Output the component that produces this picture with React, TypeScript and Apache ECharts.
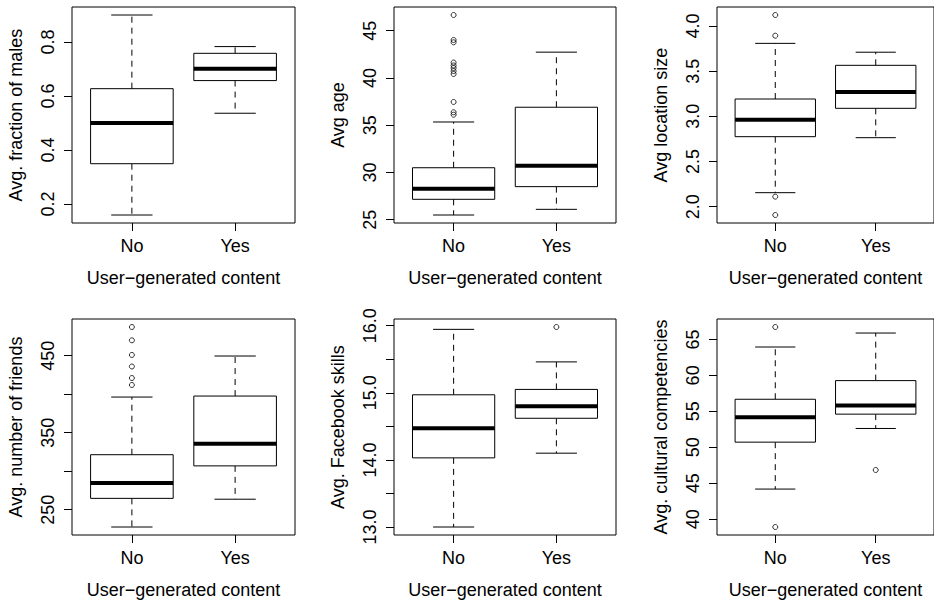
import React, { useEffect, useRef } from "react";
import * as echarts from "echarts";

// ---------- data ----------
const categories = ["No", "Yes"];
const xTitle = "User\u2212generated content";

// box stats: [lower whisker, Q1, median, Q3, upper whisker] for No, Yes
const malesStats = [
  [0.159, 0.349, 0.5, 0.627, 0.9],
  [0.536, 0.657, 0.701, 0.758, 0.783],
];
const malesOutliersNo: number[] = [];
const malesOutliersYes: number[] = [];
const malesTicks = [0.2, 0.4, 0.6, 0.8];

const ageStats = [
  [25.5, 27.16, 28.28, 30.5, 35.34],
  [26.1, 28.5, 30.7, 36.9, 42.73],
];
const ageOutliersNo = [46.66, 44.02, 43.77, 41.63, 41.32, 41.05, 40.73, 40.42, 37.46, 36.37, 36.11];
const ageOutliersYes: number[] = [];
const ageTicks = [25, 30, 35, 40, 45];

const locationStats = [
  [2.155, 2.775, 2.963, 3.192, 3.808],
  [2.764, 3.089, 3.27, 3.565, 3.71],
];
const locationOutliersNo = [4.122, 3.893, 2.111, 1.908];
const locationOutliersYes: number[] = [];
const locationTicks = [2.0, 2.5, 3.0, 3.5, 4.0];

const friendsStats = [
  [227.5, 264.7, 284.7, 321.4, 396.3],
  [263.6, 306.9, 335.5, 397.6, 449.6],
];
const friendsOutliersNo = [487.3, 470.0, 451.0, 436.0, 421.0, 412.0];
const friendsOutliersYes: number[] = [];
const friendsTicks = [250, 300, 350, 400, 450];
const friendsTickLabels = [250, 350, 450];

const skillsStats = [
  [13.0, 14.03, 14.47, 14.97, 15.945],
  [14.1, 14.62, 14.8, 15.05, 15.46],
];
const skillsOutliersNo: number[] = [];
const skillsOutliersYes = [15.98];
const skillsTicks = [13.0, 13.5, 14.0, 14.5, 15.0, 15.5, 16.0];
const skillsTickLabels = [13.0, 14.0, 15.0, 16.0];

const cultureStats = [
  [44.2, 50.72, 54.18, 56.68, 63.94],
  [52.62, 54.61, 55.8, 59.27, 65.88],
];
const cultureOutliersNo = [66.72, 38.93];
const cultureOutliersYes = [46.85];
const cultureTicks = [40, 45, 50, 55, 60, 65];

// ---------- panels ----------
type Panel = {
  yTitle: string;
  stats: number[][];
  outNo: number[];
  outYes: number[];
  ticks: number[];
  labels: number[];
  decimals: number;
  left: number;
  top: number;
  width: number;
};

const FONT = "'Liberation Sans', Arial, Helvetica, sans-serif";
const FS = 18;
const colLeft = [72, 394, 717];
const colWidth = [223, 222, 222];
const rowTop = [7, 319];
const H = 216;

const panels: Panel[] = [
  { yTitle: "Avg. fraction of males", stats: malesStats, outNo: malesOutliersNo, outYes: malesOutliersYes, ticks: malesTicks, labels: malesTicks, decimals: 1, left: colLeft[0], top: rowTop[0], width: colWidth[0] },
  { yTitle: "Avg age", stats: ageStats, outNo: ageOutliersNo, outYes: ageOutliersYes, ticks: ageTicks, labels: ageTicks, decimals: 0, left: colLeft[1], top: rowTop[0], width: colWidth[1] },
  { yTitle: "Avg location size", stats: locationStats, outNo: locationOutliersNo, outYes: locationOutliersYes, ticks: locationTicks, labels: locationTicks, decimals: 1, left: colLeft[2], top: rowTop[0], width: colWidth[2] },
  { yTitle: "Avg. number of friends", stats: friendsStats, outNo: friendsOutliersNo, outYes: friendsOutliersYes, ticks: friendsTicks, labels: friendsTickLabels, decimals: 0, left: colLeft[0], top: rowTop[1], width: colWidth[0] },
  { yTitle: "Avg. Facebook skills", stats: skillsStats, outNo: skillsOutliersNo, outYes: skillsOutliersYes, ticks: skillsTicks, labels: skillsTickLabels, decimals: 1, left: colLeft[1], top: rowTop[1], width: colWidth[1] },
  { yTitle: "Avg. cultural competencies", stats: cultureStats, outNo: cultureOutliersNo, outYes: cultureOutliersYes, ticks: cultureTicks, labels: cultureTicks, decimals: 0, left: colLeft[2], top: rowTop[1], width: colWidth[2] },
];

function buildOption() {
  const grid: any[] = [];
  const xAxis: any[] = [];
  const yAxis: any[] = [];
  const series: any[] = [];

  panels.forEach((p, i) => {
    const all = [...p.stats[0], ...p.stats[1], ...p.outNo, ...p.outYes];
    const dMin = Math.min(...all);
    const dMax = Math.max(...all);
    const ext = (dMax - dMin) * 0.04;

    grid.push({
      left: p.left,
      top: p.top,
      width: p.width,
      height: H,
      show: true,
      borderColor: "#000",
      borderWidth: 1,
      backgroundColor: "transparent",
      containLabel: false,
    });

    xAxis.push({
      type: "value",
      gridIndex: i,
      min: 0.42,
      max: 2.58,
      axisLine: { show: false },
      splitLine: { show: false },
      axisTick: { show: true, customValues: [1, 2], length: 8, lineStyle: { color: "#000", width: 1 } },
      axisLabel: {
        show: true,
        customValues: [1, 2],
        margin: 14,
        color: "#000",
        fontSize: FS,
        fontFamily: FONT,
        formatter: (v: number) => categories[Math.round(v) - 1] ?? "",
      },
      name: xTitle,
      nameLocation: "middle",
      nameGap: 46,
      nameTextStyle: { color: "#000", fontSize: FS, fontFamily: FONT },
    });

    yAxis.push({
      type: "value",
      gridIndex: i,
      min: dMin - ext,
      max: dMax + ext,
      axisLine: { show: false },
      splitLine: { show: false },
      axisTick: { show: true, customValues: p.ticks, length: 8, lineStyle: { color: "#000", width: 1 } },
      axisLabel: {
        show: true,
        customValues: p.labels,
        rotate: 90,
        margin: 15,
        color: "#000",
        fontSize: FS,
        fontFamily: FONT,
        hideOverlap: false,
        formatter: (v: number) => v.toFixed(p.decimals),
      },
      name: p.yTitle,
      nameLocation: "middle",
      nameRotate: 90,
      nameGap: 47,
      nameTextStyle: { color: "#000", fontSize: FS, fontFamily: FONT },
    });

    series.push({
      type: "custom",
      xAxisIndex: i,
      yAxisIndex: i,
      data: p.stats.map((s, k) => [k + 1, ...s]),
      renderItem: (_params: any, api: any) => {
        const x = api.value(0);
        const lo = api.coord([x, api.value(1)]);
        const q1 = api.coord([x, api.value(2)]);
        const md = api.coord([x, api.value(3)]);
        const q3 = api.coord([x, api.value(4)]);
        const hi = api.coord([x, api.value(5)]);
        const half = api.size([0.4, 0])[0];
        const cap = half / 2;
        const cx = lo[0];
        const dash = { stroke: "#000", lineWidth: 1, lineDash: [6, 5] };
        const solid = { stroke: "#000", lineWidth: 1 };
        return {
          type: "group",
          children: [
            { type: "line", shape: { x1: cx, y1: q1[1], x2: cx, y2: lo[1] }, style: dash },
            { type: "line", shape: { x1: cx, y1: q3[1], x2: cx, y2: hi[1] }, style: dash },
            { type: "line", shape: { x1: cx - cap, y1: lo[1], x2: cx + cap, y2: lo[1] }, style: solid },
            { type: "line", shape: { x1: cx - cap, y1: hi[1], x2: cx + cap, y2: hi[1] }, style: solid },
            {
              type: "rect",
              shape: { x: cx - half, y: q3[1], width: 2 * half, height: q1[1] - q3[1] },
              style: { fill: "#fff", stroke: "#000", lineWidth: 1 },
            },
            { type: "line", shape: { x1: cx - half, y1: md[1], x2: cx + half, y2: md[1] }, style: { stroke: "#000", lineWidth: 4 } },
          ],
        };
      },
      silent: true,
    });

    const outliers = [
      ...p.outNo.map((v) => [1, v]),
      ...p.outYes.map((v) => [2, v]),
    ];
    series.push({
      type: "scatter",
      xAxisIndex: i,
      yAxisIndex: i,
      data: outliers,
      symbol: "circle",
      symbolSize: 5,
      itemStyle: { color: "rgba(255,255,255,0)", borderColor: "#000", borderWidth: 1 },
      silent: true,
    });
  });

  return {
    animation: false,
    backgroundColor: "#fff",
    textStyle: { fontFamily: FONT },
    grid,
    xAxis,
    yAxis,
    series,
  };
}

export default function App() {
  const ref = useRef<HTMLDivElement>(null);
  useEffect(() => {
    if (!ref.current) return;
    const chart = echarts.init(ref.current, undefined, { renderer: "svg" });
    chart.setOption(buildOption() as any);
    return () => chart.dispose();
  }, []);
  return (
    <div
      ref={ref}
      style={{ position: "fixed", left: 0, top: 0, width: 934, height: 602, background: "#fff" }}
    />
  );
}
